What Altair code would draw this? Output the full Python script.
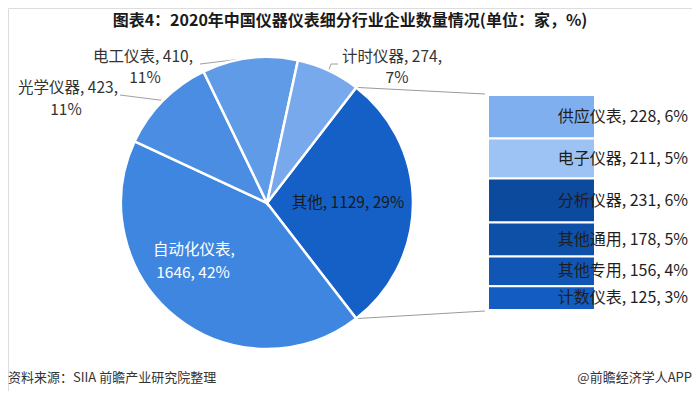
import math
import altair as alt
import pandas as pd

# ---------------- data ----------------
cats_main = ["其他", "自动化仪表", "光学仪器", "电工仪表", "计时仪器"]
vals_main = [1129, 1646, 423, 410, 274]
pcts_main = [29, 42, 11, 11, 7]

cats_sub = ["供应仪表", "电子仪器", "分析仪器", "其他通用", "其他专用", "计数仪表"]
vals_sub = [228, 211, 231, 178, 156, 125]
pcts_sub = [6, 5, 6, 5, 4, 3]

colors_main = ["#1560C6", "#3E86E0", "#4A8DE3", "#5F9BE6", "#78A9EC"]
colors_sub = ["#80AFEF", "#9DC3F4", "#0C4A9E", "#0E50A8", "#1156B4", "#135DC2"]

title_text = "图表4：2020年中国仪器仪表细分行业企业数量情况(单位：家，%)"
source_text = "资料来源：SIIA 前瞻产业研究院整理"
brand_text = "@前瞻经济学人APP"

FONT = "Noto Sans CJK SC"
W, H = 684, 383
CX, CY, R = 259, 195, 146
BX0, BX1 = 480, 587
BY_BOT, BY_TOP = 302, 87
LAB = 15.5

total = sum(vals_main)
a0 = math.pi / 2 - vals_main[0] / total * math.pi

color_scale = alt.Scale(domain=cats_main + cats_sub, range=colors_main + colors_sub)

# ---------------- pie ----------------
pie_df = pd.DataFrame({"cat": cats_main, "val": vals_main, "ord": list(range(len(cats_main)))})
pie = alt.Chart(pie_df).mark_arc(radius=R, stroke="white", strokeWidth=2.5).encode(
    theta=alt.Theta("val:Q", stack=True, scale=alt.Scale(range=[a0, a0 + 2 * math.pi])),
    color=alt.Color("cat:N", scale=color_scale, legend=None),
    order=alt.Order("ord:Q"),
    x=alt.value(CX),
    y=alt.value(CY),
)

# ---------------- bar ----------------
sub_total = sum(vals_sub)
y1s, y0s, mids = [], [], []
top = sub_total
for v in vals_sub:
    y1s.append(top)
    y0s.append(top - v)
    mids.append(top - v / 2)
    top -= v
bar_df = pd.DataFrame({
    "cat": cats_sub, "val": vals_sub, "y0": y0s, "y1": y1s, "mid": mids,
    "lab": [f"{c}, {v}, {p}%" for c, v, p in zip(cats_sub, vals_sub, pcts_sub)],
})
yscale = alt.Scale(domain=[0, sub_total], range=[BY_BOT, BY_TOP])
bars = alt.Chart(bar_df).mark_rect(stroke="white", strokeWidth=2).encode(
    x=alt.value(BX0), x2=alt.value(BX1),
    y=alt.Y("y0:Q", scale=yscale, axis=None), y2="y1:Q",
    color=alt.Color("cat:N", scale=color_scale, legend=None),
)
bar_text = alt.Chart(bar_df).mark_text(
    align="right", baseline="middle", font=FONT, fontSize=16, color="#1e1e1e"
).encode(
    x=alt.value(680), y=alt.Y("mid:Q", scale=yscale, axis=None), text="lab:N"
)

# ---------------- helpers ----------------
one = pd.DataFrame({"a": [0]})


def edge(theta):
    return CX + R * math.sin(theta), CY - R * math.cos(theta)


def rule(p, q, color="#9a9a9a"):
    return alt.Chart(one).mark_rule(color=color, strokeWidth=1).encode(
        x=alt.value(p[0]), y=alt.value(p[1]), x2=alt.value(q[0]), y2=alt.value(q[1])
    )


def txt(s, x, y, color="#333333", size=LAB, align="center", weight="normal"):
    return alt.Chart(one).mark_text(
        text=s, align=align, baseline="middle", font=FONT, fontSize=size,
        color=color, fontWeight=weight
    ).encode(x=alt.value(x), y=alt.value(y))


# angles
cum = 0
starts, ends = [], []
for v in vals_main:
    starts.append(a0 + cum / total * 2 * math.pi)
    cum += v
    ends.append(a0 + cum / total * 2 * math.pi)
mid_ang = [(s + e) / 2 for s, e in zip(starts, ends)]

connectors = [
    rule(edge(starts[0]), (477, 86)),
    rule(edge(ends[0]), (477, 303)),
]
leaders = [
    rule(edge(mid_ang[3]), (192, 56), "#a0a0a0"),
    rule(edge(mid_ang[2]), (112, 87), "#a0a0a0"),
    rule(edge(mid_ang[4]), (323, 56), "#a0a0a0"),
    rule((323, 56), (330, 56), "#a0a0a0"),
]

labels = [
    txt(f"{cats_main[3]}, {vals_main[3]},", 135, 49),
    txt(f"{pcts_main[3]}%", 137, 70),
    txt(f"{cats_main[2]}, {vals_main[2]},", 60, 80),
    txt(f"{pcts_main[2]}%", 58, 102),
    txt(f"{cats_main[4]}, {vals_main[4]},", 384, 49),
    txt(f"{pcts_main[4]}%", 389, 70),
    txt(f"{cats_main[0]}, {vals_main[0]}, {pcts_main[0]}%", 340, 195, "#1a1a1a"),
    txt(f"{cats_main[1]},", 186, 242, "white"),
    txt(f"{vals_main[1]}, {pcts_main[1]}%", 185, 265, "white"),
    txt(title_text, 342, 13, "#1a1a1a", 16, "center", "bold"),
    txt(source_text, 0, 370, "#333333", 13, "left"),
    txt(brand_text, 684, 370, "#333333", 13, "right"),
]

chart = alt.layer(
    *connectors, *leaders, pie, bars, bar_text, *labels
).properties(
    width=W, height=H, autosize=alt.AutoSizeParams(type="none"), padding=0
).configure_view(stroke=None).configure(background="white")

chart.save("out.html", embed_options={"renderer": "svg", "actions": False})
